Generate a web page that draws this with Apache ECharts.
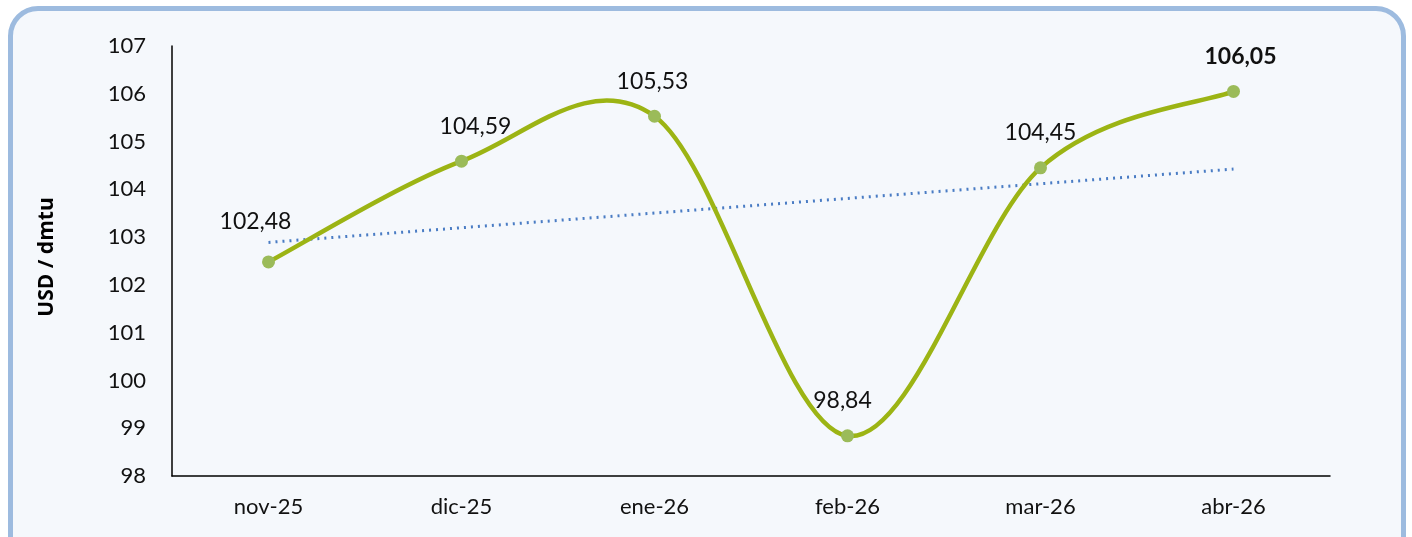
<!DOCTYPE html>
<html><head><meta charset="utf-8">
<script src="https://cdn.jsdelivr.net/npm/echarts@6/dist/echarts.min.js"></script>
<style>
html,body{margin:0;padding:0;background:#ffffff;width:1412px;height:537px;overflow:hidden;}
#frame{position:absolute;left:8px;top:6px;width:1388px;height:560px;border:5px solid #9dbbdf;border-radius:30px;background:#f5f8fc;}
#chart{position:absolute;left:0;top:0;width:1412px;height:537px;}
</style></head><body>
<div id="frame"></div>
<div id="chart"></div>
<script>
const categories = ['nov-25','dic-25','ene-26','feb-26','mar-26','abr-26'];
const prices = [102.48, 104.59, 105.53, 98.84, 104.45, 106.05];
const yTicks = [98,99,100,101,102,103,104,105,106,107];
const yAxisTitle = 'USD / dmtu';
// label nudges (pixels), styling only
const labelOffsets = [[-13,-5],[14,0],[-2,0],[-5,0],[0,0],[7,0]];

// linear trend line (least squares) of prices
const n = prices.length;
const mx = (n-1)/2;
const my = prices.reduce((a,b)=>a+b,0)/n;
let sxy=0, sxx=0;
prices.forEach((v,i)=>{sxy+=(i-mx)*(v-my); sxx+=(i-mx)*(i-mx);});
const slope = sxy/sxx;
const trend = prices.map((v,i)=> my + slope*(i-mx));

const fmt = v => v.toFixed(2).replace('.', ',');
const chart = echarts.init(document.getElementById('chart'), null, {renderer:'canvas'});
const font = 'Lato, "Open Sans", sans-serif';

// Excel-like smoothed curve (Catmull-Rom style Bezier) through data coords
function renderCurve(params, api) {
  const pts = prices.map((v,i)=> api.coord([i, v]));
  let d = 'M' + pts[0][0] + ' ' + pts[0][1];
  for (let i=0;i<pts.length-1;i++){
    const p0 = pts[Math.max(i-1,0)], p1 = pts[i], p2 = pts[i+1], p3 = pts[Math.min(i+2,pts.length-1)];
    const c1 = [p1[0]+(p2[0]-p0[0])/6, p1[1]+(p2[1]-p0[1])/6];
    const c2 = [p2[0]-(p3[0]-p1[0])/6, p2[1]-(p3[1]-p1[1])/6];
    d += ' C' + c1[0]+' '+c1[1]+' '+c2[0]+' '+c2[1]+' '+p2[0]+' '+p2[1];
  }
  return {type:'path', shape:{pathData:d}, style:{fill:'none', stroke:'#9cb414', lineWidth:4.5, lineCap:'round', lineJoin:'round'}};
}

chart.setOption({
  backgroundColor: 'transparent',
  animation: false,
  grid: {left:172, right:82, top:46, bottom:61},
  graphic: [{
    type:'text', x:47, y:257, rotation: Math.PI/2, silent:true,
    style:{text: yAxisTitle, font:'bold 21px "Open Sans", Lato, sans-serif', fill:'#000', align:'center', verticalAlign:'middle'}
  }],
  xAxis: {
    type:'category', data: categories, boundaryGap:true,
    axisLine:{lineStyle:{color:'#000', width:1.5}},
    axisTick:{show:false},
    axisLabel:{color:'#111', fontSize:22, fontFamily:font, margin:20}
  },
  yAxis: {
    type:'value', min:yTicks[0], max:yTicks[yTicks.length-1], interval:1,
    axisLine:{show:true, lineStyle:{color:'#000', width:1.5}},
    axisTick:{show:false},
    splitLine:{show:false},
    axisLabel:{color:'#111', fontSize:22, fontFamily:font, margin:26}
  },
  series: [
    {
      type:'line', data: trend, symbol:'none', smooth:false,
      lineStyle:{color:'#4a7cc4', width:3, type:[2,5]}, z:1
    },
    {
      type:'custom', data:[0], renderItem: renderCurve, z:2, silent:true
    },
    {
      type:'line', data: prices.map((v,i)=>({value:v, label: {offset: labelOffsets[i], fontWeight: i===n-1 ? 'bold' : 'normal'}})),
      symbol:'circle', symbolSize:13,
      itemStyle:{color:'#9bbb59'},
      lineStyle:{width:0, opacity:0},
      label:{show:true, position:'top', distance:17, color:'#111', fontSize:23, fontFamily:font,
        formatter: p => fmt(p.value)},
      z:3
    }
  ]
});
</script>
</body></html>
